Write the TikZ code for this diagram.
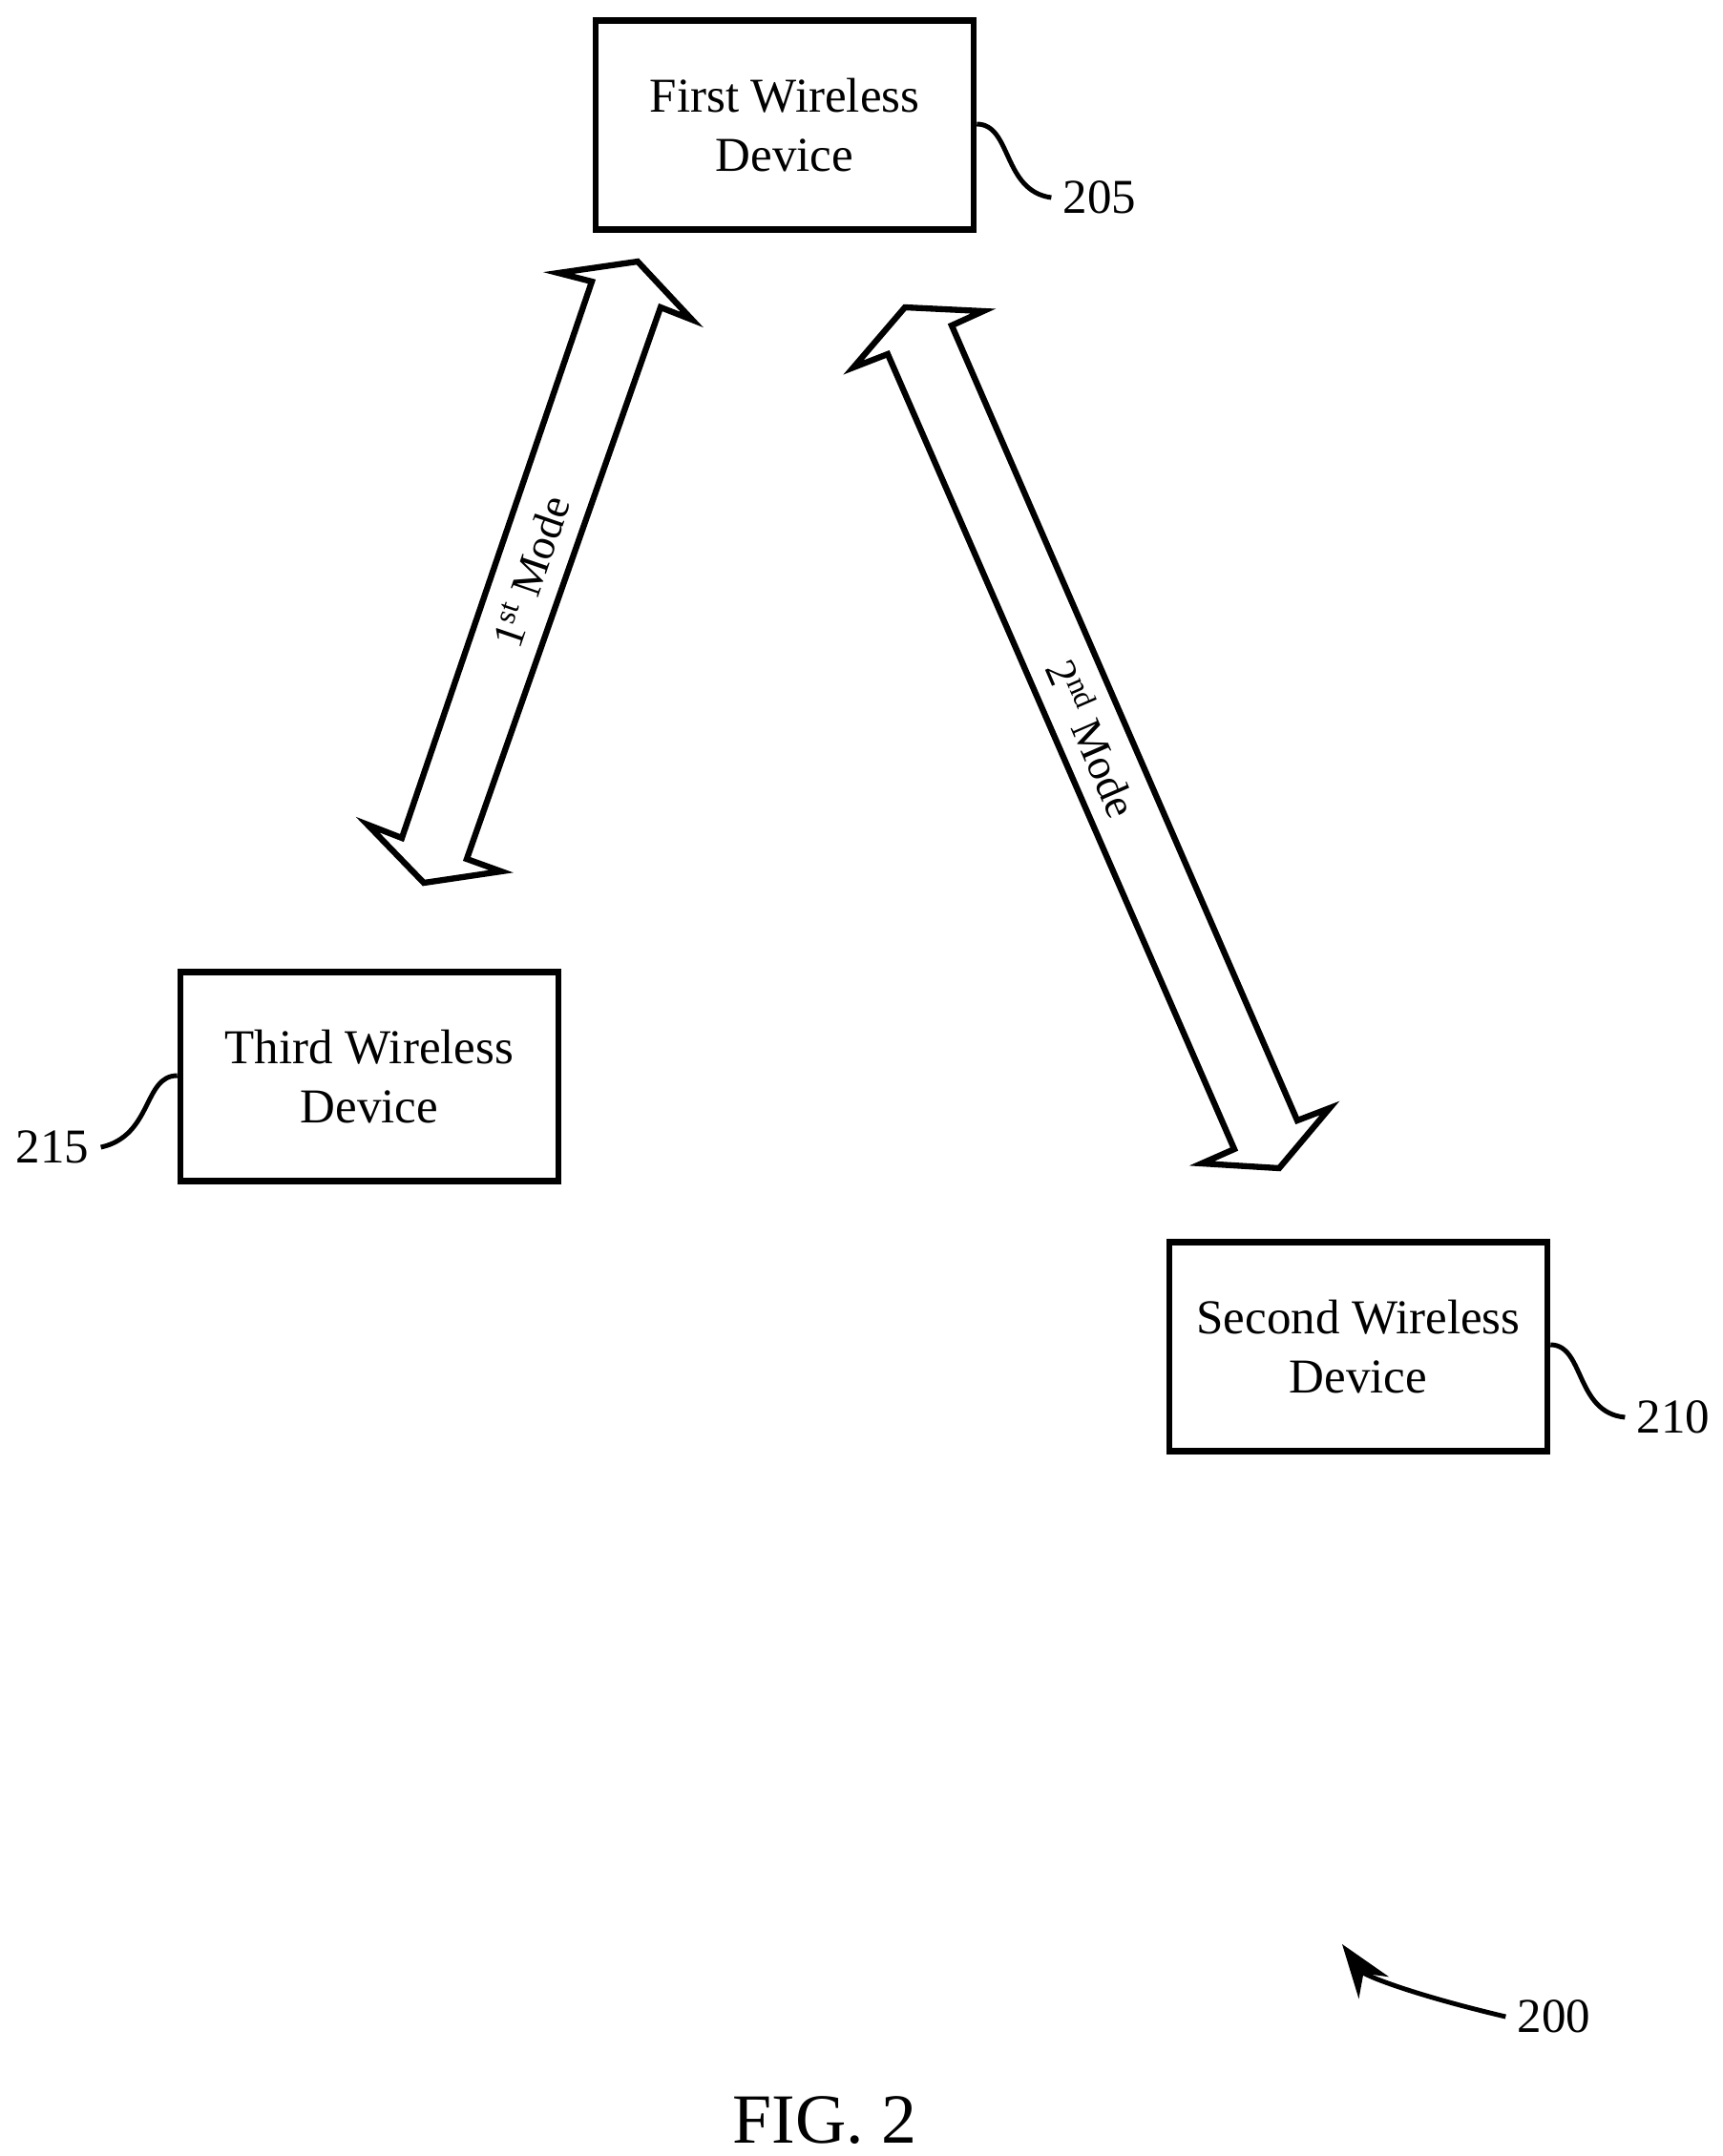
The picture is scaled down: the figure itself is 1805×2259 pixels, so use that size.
\documentclass[tikz,border=0pt]{standalone}
\usepackage{fontspec}
\setmainfont{Liberation Serif}
\usetikzlibrary{arrows.meta}
\begin{document}
\begin{tikzpicture}[x=0.01cm,y=-0.01cm,
  box/.style={draw,line width=1.8pt,minimum width=3.96cm,minimum height=2.19cm,align=center,font=\fontsize{14.5}{17.5}\selectfont},
  lbl/.style={font=\fontsize{14.5}{18}\selectfont},
  mode/.style={font=\fontsize{13}{16}\selectfont},
  ln/.style={line width=1.4pt},
  fat/.style={draw,line width=1.8pt,line join=miter}]
\useasboundingbox (0,0) rectangle (1805,2259);
\node[box] (first) at (822,131) {First Wireless\\Device};
\node[box] (third) at (387,1128) {Third Wireless\\Device};
\node[box] (second) at (1423,1411) {Second Wireless\\Device};
\node[lbl] (l205) at (1152,207) {205};
\node[lbl] (l210) at (1753,1485) {210};
\node[lbl] (l215) at (55,1202) {215};
\node[lbl] (l200) at (1628,2113) {200};
\node[font=\fontsize{21}{24}\selectfont] (fig) at (864,2222) {FIG. 2};
\draw[ln] (first.east |- 0,130) .. controls (1060,130) and (1050,200) .. (l205.west);
\draw[ln] (second.east |- 0,1409) .. controls (1660,1409) and (1650,1480) .. (l210.west);
\draw[ln] (third.west |- 0,1127) .. controls (150,1127) and (160,1190) .. (l215.east);
\draw[ln,-{Stealth[length=16pt,width=11pt]}] (l200.west) .. controls (1480,2090) and (1430,2070) .. (1406,2037) coordinate (a200);
\draw[fat] (620,295) -- (585,286) -- (668,274) -- (725,335) -- (692,322) -- (489,900) -- (525,913) -- (444,925) -- (385,864) -- (421,878) -- cycle;
\draw[fat] (930,371) -- (894,385) -- (948,322) -- (1030,326) -- (997,341) -- (1359,1174) -- (1393,1161) -- (1340,1224) -- (1259,1219) -- (1293,1204) -- cycle;
\node[mode,rotate=71.1] (m1) at (556,599) {1\textsuperscript{st} Mode};
\node[mode,rotate=-66.5] (m2) at (1146,773) {2\textsuperscript{nd} Mode};
\end{tikzpicture}
\end{document}
